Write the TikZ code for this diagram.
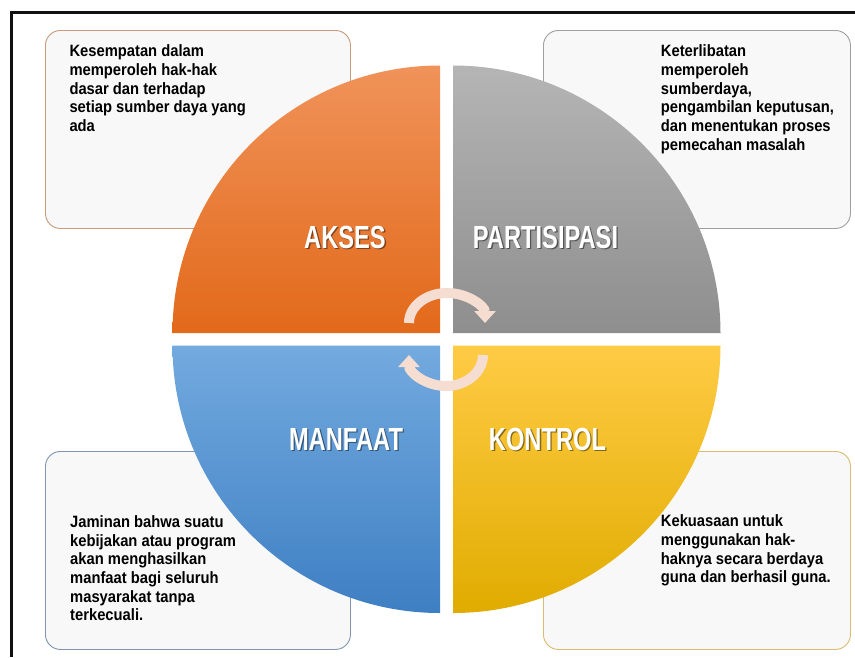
\documentclass[tikz,border=0pt]{standalone}
\usepackage{fontspec}
\setmainfont{Liberation Sans}
\newfontfamily\txtfont[FakeStretch=0.9]{Liberation Sans}
\newfontfamily\lblfont[FakeStretch=0.74]{Liberation Sans}
\usetikzlibrary{arrows.meta}
\definecolor{orgtop}{HTML}{F0935A}
\definecolor{orgbot}{HTML}{E2691A}
\definecolor{grytop}{HTML}{B5B5B5}
\definecolor{grybot}{HTML}{8E8E8E}
\definecolor{blutop}{HTML}{73AADF}
\definecolor{blubot}{HTML}{3E7FC3}
\definecolor{yeltop}{HTML}{FFCB45}
\definecolor{yelmid}{HTML}{FFC200}
\definecolor{yelbot}{HTML}{E0AC00}
\definecolor{boxfill}{HTML}{F8F8F8}
\definecolor{bdorg}{HTML}{C99B7A}
\definecolor{bdgry}{HTML}{A0A0A0}
\definecolor{bdblu}{HTML}{8096B0}
\definecolor{bdyel}{HTML}{D9BC70}
\definecolor{arrcol}{HTML}{F6DDD2}
\definecolor{frame}{HTML}{111111}
\begin{document}
\begin{tikzpicture}[x=1pt,y=1pt,
  infobox/.style={draw, fill=boxfill, line width=0.9pt, rounded corners=15pt,
    minimum width=305pt, minimum height=198pt, anchor=north west, inner sep=0pt},
  infotext/.style={anchor=north west, inner sep=0pt, align=left, text=black,
    font={\txtfont\bfseries\fontsize{16.4}{18.7}\selectfont}},
  lbl/.style={text=white, inner sep=0pt, font={\lblfont\bfseries\fontsize{32}{36}\selectfont}},
  lblshadow/.style={text=black, opacity=0.45, inner sep=0pt, font={\lblfont\bfseries\fontsize{32}{36}\selectfont}},
  cyc/.style={draw=arrcol, line width=10pt, -{Triangle[width=21pt,length=12pt]}}
]
\useasboundingbox (0,0) rectangle (855,-657);
\fill[white] (0,0) rectangle (855,-657);
% frame
\draw[frame, line width=3pt] (11.7,-657) -- (11.7,-12.5) -- (855,-12.5);
% info boxes
\node[infobox, draw=bdorg] (boxA) at (45,-30) {};
\node[infobox, draw=bdgry, minimum width=307pt] (boxP) at (543,-30) {};
\node[infobox, draw=bdblu] (boxM) at (45,-451) {};
\node[infobox, draw=bdyel, minimum width=307pt] (boxK) at (543,-451) {};
% quadrants
\shade[top color=orgtop, bottom color=orgbot] (440,-333) -- (172.5,-333) arc[start angle=180, end angle=90, radius=267.5] -- cycle;
\shade[top color=grytop, bottom color=grybot] (453,-333) -- (453,-65.5) arc[start angle=90, end angle=0, radius=267.5] -- cycle;
\shade[top color=blutop, bottom color=blubot] (440,-345.5) -- (440,-613) arc[start angle=270, end angle=180, radius=267.5] -- cycle;
\shade[top color=yeltop, middle color=yelmid, bottom color=yelbot] (453,-345.5) -- (720.5,-345.5) arc[start angle=0, end angle=-90, radius=267.5] -- cycle;
% texts
\node[infotext] (txtA) at (69.3,-43.6) {\strut Kesempatan dalam\\memperoleh hak-hak\\dasar dan terhadap\\setiap sumber daya yang\\ada};
\node[infotext] (txtP) at (660.7,-43.6) {\strut Keterlibatan\\memperoleh\\sumberdaya,\\pengambilan keputusan,\\dan menentukan proses\\pemecahan masalah};
\node[infotext] (txtM) at (70,-514.2) {\strut Jaminan bahwa suatu\\kebijakan atau program\\akan menghasilkan\\manfaat bagi seluruh\\masyarakat tanpa\\terkecuali.};
\node[infotext] (txtK) at (660.7,-513.6) {\strut Kekuasaan untuk\\menggunakan hak-\\haknya secara berdaya\\guna dan berhasil guna.};
% labels
\node[lblshadow] (sA) at (346.3,-238.3) {AKSES};
\node[lbl] (lA) at (345,-237) {AKSES};
\node[lblshadow] (sP) at (546.8,-238.3) {PARTISIPASI};
\node[lbl] (lP) at (545.5,-237) {PARTISIPASI};
\node[lblshadow] (sM) at (347.3,-440.3) {MANFAAT};
\node[lbl] (lM) at (346,-439) {MANFAAT};
\node[lblshadow] (sK) at (548.8,-440.3) {KONTROL};
\node[lbl] (lK) at (547.5,-439) {KONTROL};
% cycle arrows
\coordinate (c1) at (409,-323);
\coordinate (c2) at (483,-355);
\draw[cyc] (c1) arc[start angle=180, end angle=0, x radius=38, y radius=30];
\draw[cyc] (c2) arc[start angle=0, end angle=-180, x radius=37, y radius=31];
\end{tikzpicture}
\end{document}
